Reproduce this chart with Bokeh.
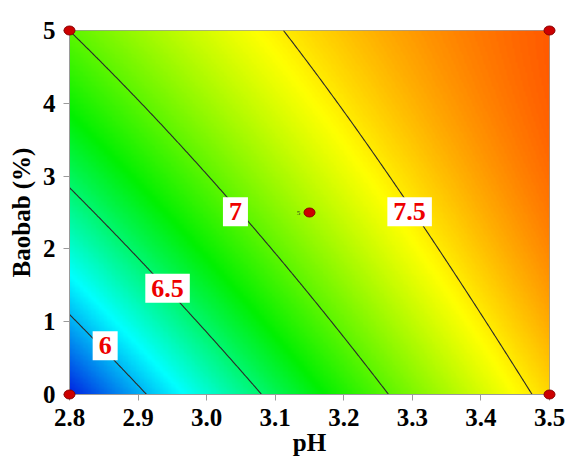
import numpy as np
from bokeh.plotting import figure
from bokeh.models import Range1d, FixedTicker, PrintfTickFormatter, LinearColorMapper, Label
from bokeh.core.properties import value
from bokeh.embed import file_html
from bokeh.resources import INLINE

# ---- data ----
ph_range = [2.8, 3.5]
baobab_range = [0.0, 5.0]
ph_ticks = [2.8, 2.9, 3.0, 3.1, 3.2, 3.3, 3.4, 3.5]
baobab_ticks = [0, 1, 2, 3, 4, 5]

# fitted response surface (u = pH - 2.8, v = Baobab %)
# z = b0 + b_u*u + b_v*v + b_uu*u^2 + b_vv*v^2 + b_uv*u*v
model_terms = ["b0", "u", "v", "u2", "v2", "uv"]
model_coefs = [5.64, 3.29, 0.3429, -0.79, -0.01415, -0.2887]

contour_levels = [6.0, 6.5, 7.0, 7.5]
contour_label_text = ["6", "6.5", "7", "7.5"]
contour_label_ph = [2.852, 2.943, 3.042, 3.296]
contour_label_baobab = [0.67, 1.46, 2.51, 2.51]

design_ph = [2.8, 2.8, 3.5, 3.5, 3.15]
design_baobab = [0.0, 5.0, 0.0, 5.0, 2.5]
center_replicates = ["5"]

# colour scale stops (response value -> colour)
scale_values = [5.64, 6.16, 6.75, 7.45, 8.05]
scale_colors = [(0, 35, 225), (0, 255, 255), (0, 240, 0), (255, 255, 0), (255, 40, 0)]

# ---- surface grid ----
nx, ny = 300, 300
xs = np.linspace(ph_range[0], ph_range[1], nx)
ys = np.linspace(baobab_range[0], baobab_range[1], ny)
X, Y = np.meshgrid(xs, ys)
U = X - ph_range[0]
V = Y
c = dict(zip(model_terms, model_coefs))
Z = c["b0"] + c["u"] * U + c["v"] * V + c["u2"] * U**2 + c["v2"] * V**2 + c["uv"] * U * V

# palette interpolated between the stops
lv = np.linspace(scale_values[0], scale_values[-1], 256)
rgb = np.array(scale_colors, dtype=float)
pal = []
for val in lv:
    r = np.interp(val, scale_values, rgb[:, 0])
    g = np.interp(val, scale_values, rgb[:, 1])
    b = np.interp(val, scale_values, rgb[:, 2])
    pal.append("#%02x%02x%02x" % (int(round(r)), int(round(g)), int(round(b))))
mapper = LinearColorMapper(palette=pal, low=scale_values[0], high=scale_values[-1])

p = figure(width=569, height=458, output_backend="svg", toolbar_location=None,
           x_range=Range1d(*ph_range), y_range=Range1d(*baobab_range),
           min_border_left=69, min_border_right=20, min_border_top=30, min_border_bottom=62)
p.background_fill_color = "white"
p.grid.visible = False
p.outline_line_color = "#9a9a9a"
p.outline_line_width = 1

p.image(image=[Z], x=ph_range[0], y=baobab_range[0],
        dw=ph_range[1] - ph_range[0], dh=baobab_range[1] - baobab_range[0],
        color_mapper=mapper)

p.contour(x=xs, y=ys, z=Z, levels=contour_levels, line_color="#2a2a2a", line_width=1.1,
          fill_color=None)

for t, lx, ly in zip(contour_label_text, contour_label_ph, contour_label_baobab):
    p.add_layout(Label(x=lx, y=ly, text=t, text_align="center", text_baseline="middle",
                       text_font="Liberation Serif", text_font_style="bold",
                       text_font_size="26px", text_color="#ee0000",
                       background_fill_color="white", padding=6))

pts = p.ellipse(x=design_ph, y=design_baobab, width=11, height=9,
                width_units="screen", height_units="screen",
                fill_color="#cc0000", line_color="#880000", line_width=1)
pts.level = "overlay"
p.text(x=[design_ph[-1]], y=[design_baobab[-1]], text=center_replicates,
       x_offset=-11, text_align="center", text_baseline="middle",
       text_font=value("Liberation Serif"), text_font_size="7px", text_color="#224422")

# axes
for ax in (p.xaxis[0], p.yaxis[0]):
    ax.axis_line_color = "#9a9a9a"
    ax.major_tick_line_color = "#9a9a9a"
    ax.major_tick_out = 6
    ax.major_tick_in = 0
    ax.minor_tick_line_color = None
    ax.major_label_text_font = "Liberation Serif"
    ax.major_label_text_font_style = "bold"
    ax.major_label_text_font_size = "25px"
    ax.major_label_text_color = "black"
    ax.axis_label_text_font = "Liberation Serif"
    ax.axis_label_text_font_style = "bold"
    ax.axis_label_text_font_size = "25px"
    ax.axis_label_text_color = "black"

p.xaxis.ticker = FixedTicker(ticks=ph_ticks)
p.xaxis.formatter = PrintfTickFormatter(format="%.1f")
p.yaxis.ticker = FixedTicker(ticks=baobab_ticks)
p.yaxis.formatter = PrintfTickFormatter(format="%d")
p.xaxis.axis_label = "pH"
p.yaxis.axis_label = "Baobab (%)"
p.xaxis.major_label_standoff = 8
p.xaxis.axis_label_standoff = 0
p.yaxis.major_label_standoff = 8
p.yaxis.axis_label_standoff = 5

open("out.html", "w").write(file_html(p, INLINE))
